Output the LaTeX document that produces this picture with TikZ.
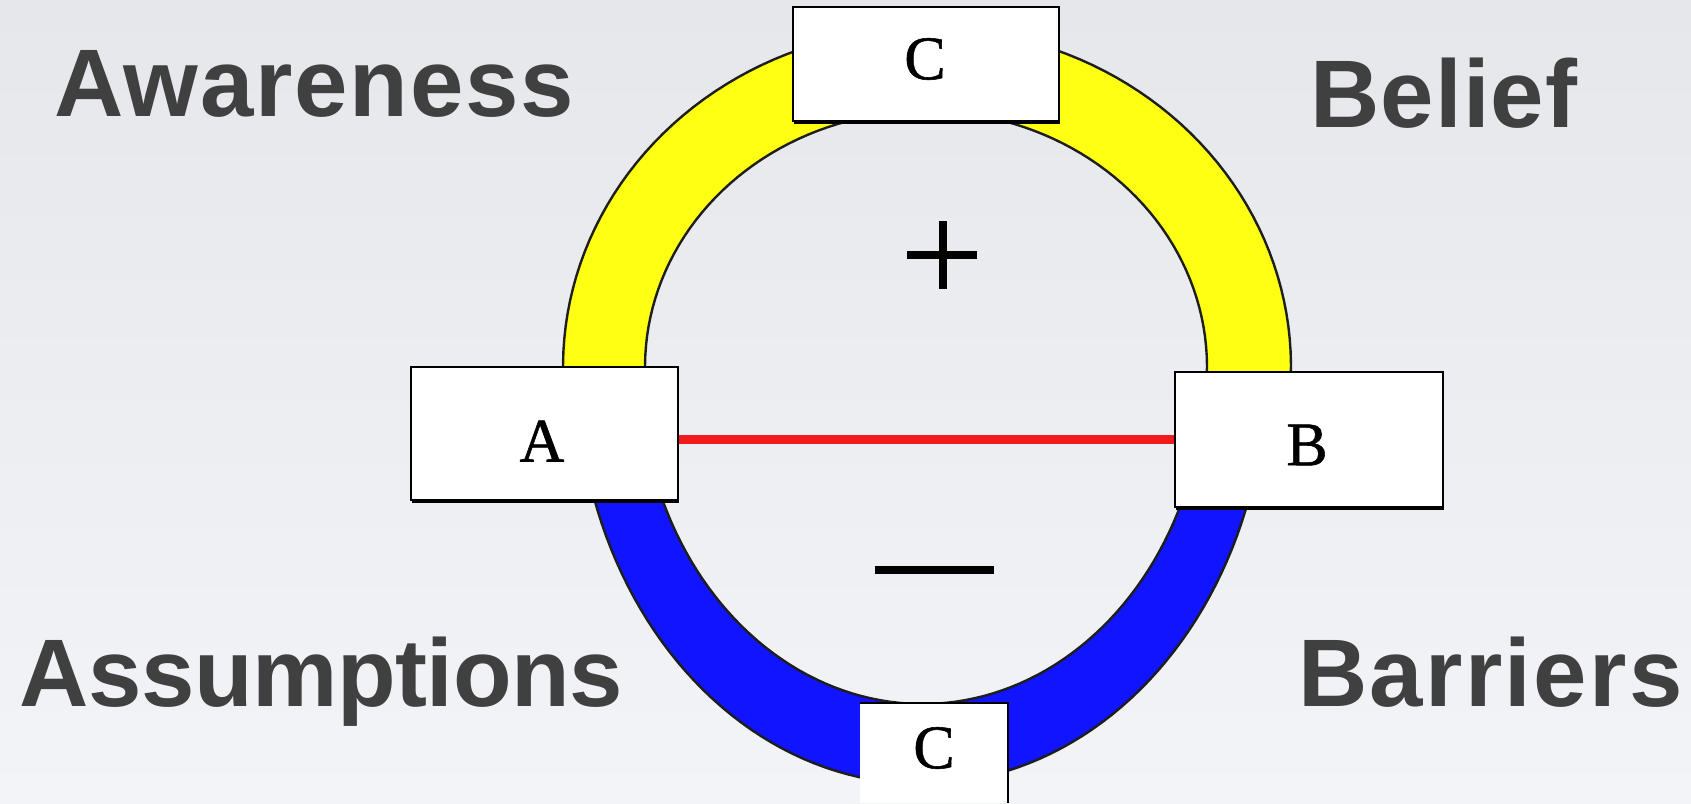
\documentclass[tikz,border=0pt]{standalone}
\usepackage{fontspec}
\setmainfont{Liberation Serif}
\newfontfamily\labelfont{Liberation Sans}
\usetikzlibrary{shadows}

\definecolor{bgtop}{RGB}{229,231,235}
\definecolor{bgbottom}{RGB}{243,244,247}
\definecolor{ringyellow}{RGB}{255,255,20}
\definecolor{ringblue}{RGB}{16,20,255}
\definecolor{linkred}{RGB}{240,28,28}
\definecolor{labelgray}{RGB}{64,64,64}
\definecolor{edgegray}{RGB}{30,30,30}

% ring edges: upper half and lower half are two half-ellipses, joined
% behind the A and B boxes
\def\outerring{plot[domain=174:366, samples=90, variable=\t]
    ({927+364*cos(\t)}, {367+339*sin(\t)})
  -- plot[domain=4.8:175.2, samples=90, variable=\t]
    ({921.5+345*cos(\t)}, {367+417*sin(\t)}) -- cycle}
\def\innerring{plot[domain=174:366, samples=90, variable=\t]
    ({926+281*cos(\t)}, {367+256*sin(\t)})
  -- plot[domain=4.4:175.6, samples=90, variable=\t]
    ({922.5+283*cos(\t)}, {367+337*sin(\t)}) -- cycle}

\begin{document}
\begin{tikzpicture}[x=0.5pt,y=-0.5pt,
  boxletter/.style={font=\fontsize{31}{35}\selectfont\addfontfeature{FakeBold=0.9}},
  letterbox/.style={draw=black, line width=1pt, fill=white, inner sep=0pt,
    boxletter,
    drop shadow={shadow xshift=0.6pt, shadow yshift=-1.4pt, opacity=1, fill=black}},
  sidelabel/.style={anchor=base west, inner sep=0pt, text=labelgray,
    font=\labelfont\bfseries\fontsize{48}{54}\selectfont\addfontfeature{LetterSpace=#1}},
  ringedge/.style={draw=edgegray, line width=1.2pt},
  link/.style={draw=linkred, line width=4.5pt},
  signbar/.style={draw=black, line width=3.6pt}]

% page background
\path[use as bounding box, top color=bgtop, bottom color=bgbottom]
  (0,0) rectangle (1691,803);
\clip (0,0) rectangle (1691,803);
\coordinate (pagebottom) at (0,803);

% upper half of the ring in yellow, lower half in blue
\begin{scope}
  \clip (0,0) rectangle (1691,440);
  \path[fill=ringyellow, even odd rule] \outerring \innerring;
\end{scope}
\begin{scope}
  \clip (0,440) rectangle (1691,803);
  \path[fill=ringblue, even odd rule] \outerring \innerring;
\end{scope}
\draw[ringedge] \outerring;
\draw[ringedge] \innerring;

% plus and minus signs
\draw[signbar] (907,255) -- (977,255);
\draw[signbar] (943,221) -- (943,289);
\draw[signbar] (875,570) -- (994,570);

% boxes
\node[letterbox, minimum width=133pt, minimum height=57pt] (Ctop) at (926,64) {};
\node[boxletter, inner sep=0pt] (Ctopletter) at (925,59) {C};
\node[letterbox, minimum width=133.5pt, minimum height=66.5pt] (A) at (544.5,433.5) {};
\node[boxletter, inner sep=0pt] (Aletter) at (542,441) {A};
\node[letterbox, minimum width=134pt, minimum height=67.5pt] (B) at (1309,439.5) {};
\node[boxletter, inner sep=0pt] (Bletter) at (1307,445) {B};

% bottom box runs off the page: only its top and right sides show
\node[fill=white, inner sep=0pt, minimum width=74pt, minimum height=45pt,
  boxletter] (Cbot) at (934,748) {C};
\fill[white] (Cbot.south west) rectangle (Cbot.south east |- pagebottom);
\draw[black, line width=1pt] (Cbot.north west) -- (Cbot.north east)
  -- (Cbot.north east |- pagebottom);

% link between A and B
\draw[link] (A.east |- B.west) -- (B.west);

% side labels
\node[sidelabel=1.9] (aw) at (54,116) {Awareness};
\node[sidelabel=1.2] (be) at (1310,127) {Belief};
\node[sidelabel=-0.5] (as) at (19,706) {Assumptions};
\node[sidelabel=2.4] (ba) at (1298,706) {Barriers};
\end{tikzpicture}
\end{document}
